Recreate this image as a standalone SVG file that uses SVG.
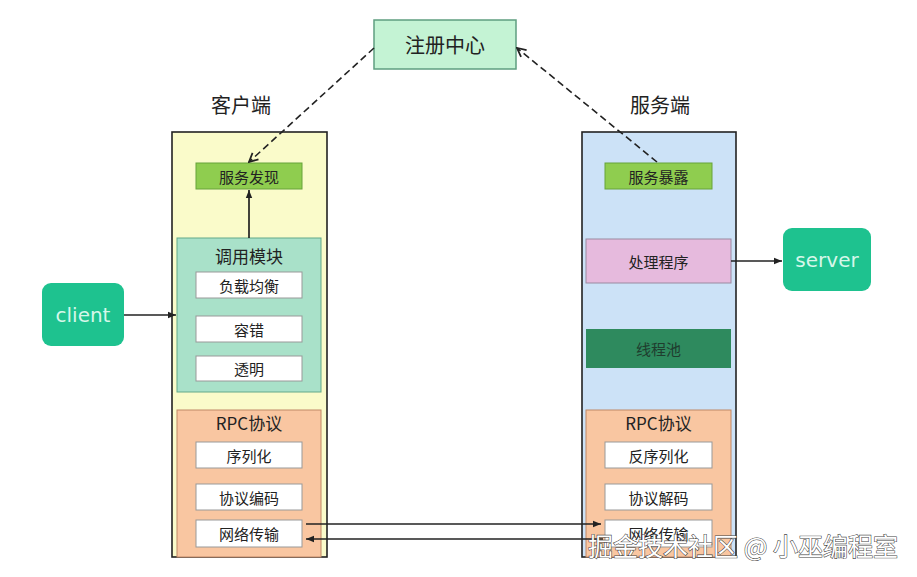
<svg xmlns="http://www.w3.org/2000/svg" width="917" height="577" viewBox="0 0 917 577">
<defs>
<marker id="ah" viewBox="0 0 10 10" refX="10" refY="5" markerWidth="8" markerHeight="8" orient="auto" markerUnits="userSpaceOnUse"><path d="M0,1 L10,5 L0,9 z" fill="#222"/></marker>
<marker id="open" viewBox="0 0 10 10" refX="9" refY="5" markerWidth="11" markerHeight="11" orient="auto" markerUnits="userSpaceOnUse"><path d="M1,1 L9,5 L1,9" fill="none" stroke="#222" stroke-width="1.6"/></marker>
</defs>
<style>
text{font-family:"Noto Sans CJK SC","Noto Sans",sans-serif;text-anchor:middle;dominant-baseline:central;fill:#222}
.sub{fill:#fff;stroke:#999;stroke-width:1}
.s14{font-size:15px}
.s16{font-size:17px}
.s19{font-size:20px}
.ln{stroke:#222;stroke-width:1.7;fill:none}
.dash{stroke:#222;stroke-width:1.6;fill:none;stroke-dasharray:7 4}
</style>
<rect width="917" height="577" fill="#fff"/>
<g id="registry"><rect x="374" y="20" width="142" height="49" fill="#c4f3d4" stroke="#5f9e80" stroke-width="1.5"/><text x="445" y="44.5" class="s19">注册中心</text></g>
<text x="241" y="104" class="s19">客户端</text>
<text x="660" y="104" class="s19">服务端</text>
<g id="client-panel"><rect x="172" y="132" width="155" height="425" fill="#fafbca" stroke="#222" stroke-width="1.6"/></g>
<g id="server-panel"><rect x="582" y="132" width="154" height="425" fill="#cce2f7" stroke="#222" stroke-width="1.6"/></g>
<g id="discovery"><rect x="196" y="163" width="106" height="26" fill="#8fcd4f" stroke="#66a33a"/><text x="249" y="176" class="s14">服务发现</text></g>
<g id="invoke"><rect x="177" y="238" width="144" height="154" fill="#a9e1c9" stroke="#62a98a"/><text x="249" y="255" class="s16">调用模块</text></g>
<g id="lb"><rect x="196" y="272" width="106" height="26" class="sub"/><text x="249" y="285" class="s14">负载均衡</text></g>
<g id="ft"><rect x="196" y="316" width="106" height="26" class="sub"/><text x="249" y="329" class="s14">容错</text></g>
<g id="tp"><rect x="196" y="356" width="106" height="25" class="sub"/><text x="249" y="368.5" class="s14">透明</text></g>
<g id="rpc-c"><rect x="177" y="410" width="144" height="147" fill="#f9c6a1" stroke="#c08866"/><text x="249" y="422" class="s16">RPC协议</text></g>
<g id="ser"><rect x="196" y="442" width="106" height="26" class="sub"/><text x="249" y="455" class="s14">序列化</text></g>
<g id="enc"><rect x="196" y="484" width="106" height="26" class="sub"/><text x="249" y="497" class="s14">协议编码</text></g>
<g id="net-c"><rect x="196" y="520" width="106" height="27" class="sub"/><text x="249" y="533.5" class="s14">网络传输</text></g>
<g id="expose"><rect x="605" y="163" width="107" height="26" fill="#8fcd4f" stroke="#66a33a"/><text x="658.5" y="176" class="s14">服务暴露</text></g>
<g id="handler"><rect x="586" y="239" width="145" height="44" fill="#e6badd" stroke="#9a8aa0"/><text x="658.5" y="261" class="s14">处理程序</text></g>
<g id="pool"><rect x="586" y="329" width="145" height="39" fill="#2e8a5e"/><text x="658.5" y="348.5" class="s14" style="fill:#1f3d2e">线程池</text></g>
<g id="rpc-s"><rect x="586" y="410" width="145" height="147" fill="#f9c6a1" stroke="#c08866"/><text x="658.5" y="422" class="s16">RPC协议</text></g>
<g id="deser"><rect x="605" y="442" width="107" height="26" class="sub"/><text x="658.5" y="455" class="s14">反序列化</text></g>
<g id="dec"><rect x="605" y="484" width="107" height="26" class="sub"/><text x="658.5" y="497" class="s14">协议解码</text></g>
<g id="net-s"><rect x="605" y="520" width="107" height="27" class="sub"/><text x="658.5" y="533.5" class="s14">网络传输</text></g>
<g id="client"><rect x="42" y="283" width="82" height="63" rx="9" fill="#1ec28f"/><text x="83" y="315" style="font-family:'DejaVu Sans',sans-serif;font-size:20px;fill:#d6f7ea">client</text></g>
<g id="server"><rect x="783" y="228" width="88" height="63" rx="9" fill="#1ec28f"/><text x="827" y="260" style="font-family:'DejaVu Sans',sans-serif;font-size:20px;fill:#d6f7ea">server</text></g>
<g id="connectors">
<line x1="374" y1="48" x2="249" y2="162" class="dash" marker-end="url(#open)"/>
<line x1="657" y1="162" x2="517" y2="48" class="dash" marker-end="url(#open)"/>
<line x1="249" y1="238" x2="249" y2="190" class="ln" marker-end="url(#ah)"/>
<line x1="124" y1="315" x2="176" y2="315" class="ln" marker-end="url(#ah)"/>
<line x1="731" y1="261" x2="782" y2="261" class="ln" marker-end="url(#ah)"/>
<line x1="306" y1="524" x2="601" y2="524" class="ln" marker-end="url(#ah)"/>
<line x1="603" y1="539" x2="306" y2="539" class="ln" marker-end="url(#ah)"/>
</g>
<text x="743" y="545" style="font-size:25px;fill:#fff;stroke:#444;stroke-width:1.1;paint-order:stroke">掘金技术社区 @ 小巫编程室</text>
</svg>
